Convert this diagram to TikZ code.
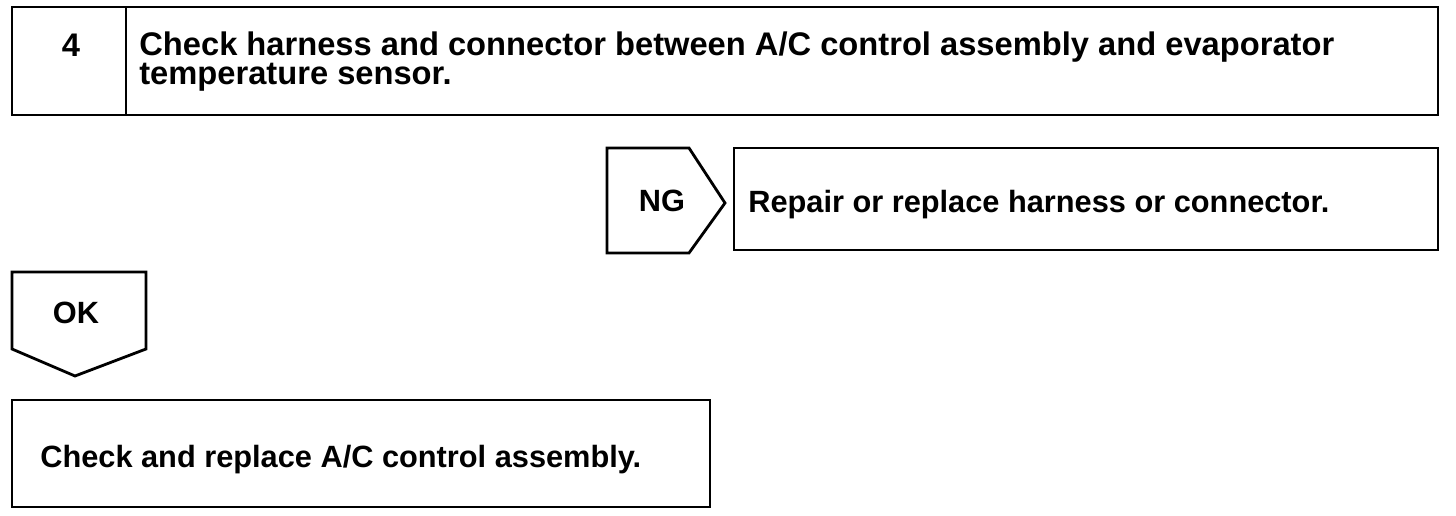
\documentclass[tikz,border=0pt]{standalone}
\usepackage{fontspec}
\setmainfont{Liberation Sans}

\tikzset{
  frame/.style={line width=1.6pt, line join=miter},
  label/.style={font=\fontsize{17.5}{14.8}\selectfont\bfseries, inner sep=0pt},
  headline/.style={label, font=\fontsize{18.6}{15.2}\selectfont\bfseries}
}

\begin{document}
\begin{tikzpicture}[x=0.02cm, y=-0.02cm]
      \useasboundingbox (0,0) rectangle (1456,516);

      \draw[frame] (12,7) rectangle (1438,115);
      \draw[frame] (126,7) -- (126,115);
      \node[headline] (num) at (71,45) {4};
      \node[headline, anchor=base west, align=left] (title) at (139,85) {Check harness and connector between A/C control assembly and evaporator\\temperature sensor.};

      \draw[frame] (607,148) -- (689,148) -- (725,203) -- (689,253) -- (607,253) -- cycle;
      \node[label] (ng) at (662,201) {NG};
      \draw[frame] (734,148) rectangle (1438,250);
      \node[label, anchor=base west] (repair) at (748,213) {Repair or replace harness or connector.};

      \draw[frame] (12,272) -- (146,272) -- (146,349) -- (75,376) -- (12,349) -- cycle;
      \node[label] (ok) at (76,313) {OK};

      \draw[frame] (12,400) rectangle (710,507);
      \node[label, anchor=base west] (replace) at (40,467) {Check and replace A/C control assembly.};
    \end{tikzpicture}
\end{document}
